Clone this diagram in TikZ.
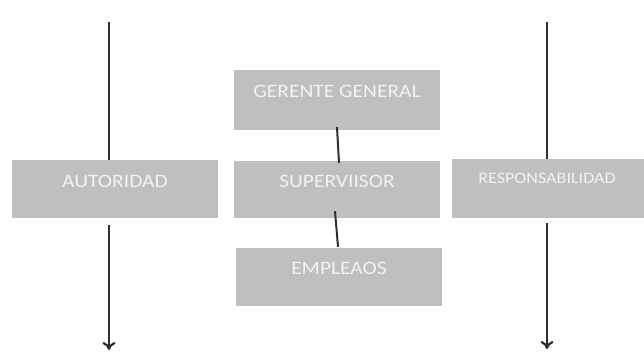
\documentclass[tikz,border=0pt]{standalone}
\usepackage{fontspec}
\newfontfamily\boxfont[FakeStretch=1.13]{Carlito}
\usetikzlibrary{arrows.meta}
\definecolor{boxgray}{HTML}{BFBFBF}
\definecolor{boxtext}{HTML}{F2F2F2}
\definecolor{linegray}{HTML}{303030}
\tikzset{
  box/.style={rectangle, fill=boxgray, draw=none, inner sep=0pt},
  lbl/.style={inner sep=0pt, text=boxtext, font=\boxfont\fontsize{19}{21}\selectfont},
  lblsmall/.style={inner sep=0pt, text=boxtext, font=\boxfont\fontsize{16}{18}\selectfont},
  conn/.style={draw=linegray, line width=2pt},
  flow/.style={conn, -{To[length=8pt,width=13pt,line width=2.2pt]}}
}
\begin{document}
\begin{tikzpicture}[x=1pt,y=-1pt]
  \useasboundingbox (0,0) rectangle (644,352);

  % left column: authority
  \node[box, minimum width=206pt, minimum height=58pt] (aut) at (115,189) {};
  \node[lbl] (autT) at (115,181) {AUTORIDAD};

  % centre column: hierarchy
  \node[box, minimum width=206pt, minimum height=60pt] (gg) at (337,100) {};
  \node[lbl] (ggT) at (337,91) {GERENTE GENERAL};
  \node[box, minimum width=206pt, minimum height=57pt] (sup) at (337,189.5) {};
  \node[lbl] (supT) at (337,181.5) {SUPERVIISOR};
  \node[box, minimum width=206pt, minimum height=58pt] (emp) at (339,277) {};
  \node[lbl] (empT) at (339,268.5) {EMPLEAOS};

  % right column: responsibility
  \node[box, minimum width=200pt, minimum height=59pt] (resp) at (552,188.5) {};
  \node[lblsmall] (respT) at (547,178) {RESPONSABILIDAD};

  % vertical flow lines
  \coordinate (autTop) at (109,22);
  \coordinate (autEnd) at (109,350);
  \coordinate (respTop) at (547,22);
  \coordinate (respEnd) at (547,349);
  \draw[conn] (autTop) -- (autTop |- aut.north);
  \draw[flow] ([yshift=-7pt]autTop |- aut.south) -- (autEnd);
  \draw[conn] (respTop) -- (respTop |- resp.north);
  \draw[flow] ([yshift=-5pt]respTop |- resp.south) -- (respEnd);

  % hierarchy links
  \draw[conn] ([yshift=3pt]gg.south) -- ([xshift=2pt,yshift=-2pt]sup.north);
  \draw[conn] ([xshift=-2pt,yshift=7pt]sup.south) -- ([xshift=-1pt,yshift=1pt]emp.north);
\end{tikzpicture}
\end{document}
